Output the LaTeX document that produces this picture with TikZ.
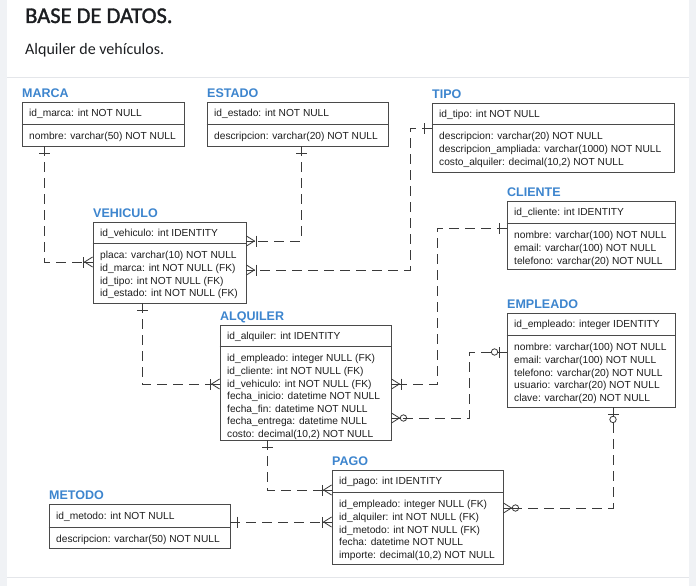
\documentclass[tikz,border=0pt]{standalone}
\usepackage{fontspec}
\setmainfont{Liberation Sans}
\newfontfamily\hdrfont{Carlito}
\newfontfamily\hdrboldfont[FakeBold=1.4]{Carlito}
\usetikzlibrary{fit}
\definecolor{bluet}{HTML}{3D85CE}
\definecolor{boxline}{HTML}{4A4A4A}
\definecolor{txt}{HTML}{1E1E1E}
\definecolor{rel}{HTML}{3A3A3A}
\definecolor{strip}{HTML}{F0F2F5}
\definecolor{sep}{HTML}{E4E6EA}
\definecolor{hdr}{HTML}{1C1E21}
\tikzset{
  etitle/.style={font=\bfseries\fontsize{12.5}{14}\selectfont, text=bluet, inner sep=0pt},
  ebox/.style={draw=boxline, line width=0.9pt, inner sep=0pt},
  ediv/.style={draw=boxline, line width=0.9pt},
  efield/.style={font=\fontsize{10.2}{12.6}\selectfont, text=txt, inner sep=0pt},
  relline/.style={draw=rel, line width=0.8pt, dash pattern=on 10pt off 6pt},
  sym/.style={draw=rel, line width=0.8pt},
}
% symbols: local x axis points outward from the box edge
\newcommand\symone[2]{\begin{scope}[shift={#1},rotate=#2]\draw[sym] (7,-5.5) -- (7,5.5);\end{scope}}
\newcommand\symonemany[2]{\begin{scope}[shift={#1},rotate=#2]\draw[sym] (0,-5) -- (8,0) -- (0,5); \draw[sym] (0,0) -- (9,0); \draw[sym] (9.5,-5.5) -- (9.5,5.5);\end{scope}}
\newcommand\symzeromany[2]{\begin{scope}[shift={#1},rotate=#2]\draw[sym] (0,-5) -- (8,0) -- (0,5); \draw[sym] (0,0) -- (8.8,0); \draw[sym] (12,0) circle (3.2);\end{scope}}
\newcommand\symzeroone[2]{\begin{scope}[shift={#1},rotate=#2]\draw[sym] (0,0) -- (8.8,0); \draw[sym] (7,-5.5) -- (7,5.5); \draw[sym] (12,0) circle (3.2);\end{scope}}
% entity: name, x, top, right, divider, bottom, title, pk, fields
\newcommand\erent[9]{%
  \node[etitle, anchor=base west] (#1-title) at (#2,#3-5) {#7};
  \node[ebox, fit={(#2,#3) (#4,#6)}] (#1) {};
  \draw[ediv] (#1.west |- 0,#5) -- (#1.east |- 0,#5);
  \node[efield, anchor=base west] (#1-pk) at (#2+7,{(#3+#5)/2+3.7}) {#8};
  \foreach \f [count=\i] in {#9}
    \node[efield, anchor=base west] (#1-f\i) at (#2+7,{#5+15.8+(\i-1)*12.6}) {\f};
}
\begin{document}
\begin{tikzpicture}[x=1pt,y=-1pt]
\useasboundingbox (0,0) rectangle (696,586);
\fill[white] (0,0) rectangle (696,586);
\fill[strip] (0,0) rectangle (7,586);
\fill[strip] (689,0) rectangle (696,586);
\draw[sep, line width=1pt] (7,78) -- (689,78);
\draw[sep, line width=1pt] (7,577) -- (689,577);

\node[font=\hdrboldfont\fontsize{22.5}{26}\selectfont, text=hdr, anchor=base west, inner sep=0pt] (hdr) at (25,23) {BASE DE DATOS.};
\node[font=\hdrfont\fontsize{16}{19}\selectfont, text=hdr, anchor=base west, inner sep=0pt] (sub) at (25,55) {Alquiler de vehículos.};

\erent{marca}{22}{102}{184}{124}{146}{MARCA}{id\_marca: int NOT NULL}{{nombre: varchar(50) NOT NULL}}
\erent{estado}{207}{102}{388}{124}{146}{ESTADO}{id\_estado: int NOT NULL}{{descripcion: varchar(20) NOT NULL}}
\erent{tipo}{432}{103}{674}{124}{172}{TIPO}{id\_tipo: int NOT NULL}{{descripcion: varchar(20) NOT NULL},{descripcion\_ampliada: varchar(1000) NOT NULL},{costo\_alquiler: decimal(10,2) NOT NULL}}
\erent{cliente}{507}{201}{675}{223}{269}{CLIENTE}{id\_cliente: int IDENTITY}{{nombre: varchar(100) NOT NULL},{email: varchar(100) NOT NULL},{telefono: varchar(20) NOT NULL}}
\erent{vehiculo}{93}{222}{246}{243}{303}{VEHICULO}{id\_vehiculo: int IDENTITY}{{placa: varchar(10) NOT NULL},{id\_marca: int NOT NULL (FK)},{id\_tipo: int NOT NULL (FK)},{id\_estado: int NOT NULL (FK)}}
\erent{alquiler}{220}{325}{391}{346}{440}{ALQUILER}{id\_alquiler: int IDENTITY}{{id\_empleado: integer NULL (FK)},{id\_cliente: int NOT NULL (FK)},{id\_vehiculo: int NOT NULL (FK)},{fecha\_inicio: datetime NOT NULL},{fecha\_fin: datetime NOT NULL},{fecha\_entrega: datetime NULL},{costo: decimal(10,2) NOT NULL}}
\erent{empleado}{507}{313}{675}{335}{407}{EMPLEADO}{id\_empleado: integer IDENTITY}{{nombre: varchar(100) NOT NULL},{email: varchar(100) NOT NULL},{telefono: varchar(20) NOT NULL},{usuario: varchar(20) NOT NULL},{clave: varchar(20) NOT NULL}}
\erent{pago}{332}{470}{503}{492}{564}{PAGO}{id\_pago: int IDENTITY}{{id\_empleado: integer NULL (FK)},{id\_alquiler: int NOT NULL (FK)},{id\_metodo: int NOT NULL (FK)},{fecha: datetime NOT NULL},{importe: decimal(10,2) NOT NULL}}
\erent{metodo}{49}{504}{230}{527}{548}{METODO}{id\_metodo: int NOT NULL}{{descripcion: varchar(50) NOT NULL}}

% relations
\draw[relline] (marca.south -| 44,0) |- (vehiculo.west |- 0,262);
\symone{(marca.south -| 44,0)}{-90}
\symonemany{(vehiculo.west |- 0,262)}{180}

\draw[relline] (estado.south -| 301,0) |- (vehiculo.east |- 0,241);
\symone{(estado.south -| 301,0)}{-90}
\symonemany{(vehiculo.east |- 0,241)}{0}

\draw[relline] (tipo.west |- 0,128) -- (410,128) |- (vehiculo.east |- 0,270);
\symone{(tipo.west |- 0,128)}{180}
\symonemany{(vehiculo.east |- 0,270)}{0}

\draw[relline] (cliente.west |- 0,228) -- (437,228) |- (alquiler.east |- 0,384);
\symone{(cliente.west |- 0,228)}{180}
\symonemany{(alquiler.east |- 0,384)}{0}

\draw[relline] (empleado.west |- 0,352) -- (469,352) |- (alquiler.east |- 0,418);
\symzeroone{(empleado.west |- 0,352)}{180}
\symzeromany{(alquiler.east |- 0,418)}{0}

\draw[relline] (vehiculo.south -| 142,0) |- (alquiler.west |- 0,384);
\symone{(vehiculo.south -| 142,0)}{-90}
\symonemany{(alquiler.west |- 0,384)}{180}

\draw[relline] (alquiler.south -| 267,0) |- (pago.west |- 0,490);
\symone{(alquiler.south -| 267,0)}{-90}
\symonemany{(pago.west |- 0,490)}{180}

\draw[relline] (metodo.east |- 0,522) -- (pago.west |- 0,522);
\symone{(metodo.east |- 0,522)}{0}
\symonemany{(pago.west |- 0,522)}{180}

\draw[relline] (empleado.south -| 613,0) |- (pago.east |- 0,508);
\symzeroone{(empleado.south -| 613,0)}{-90}
\symzeromany{(pago.east |- 0,508)}{0}
\end{tikzpicture}
\end{document}
